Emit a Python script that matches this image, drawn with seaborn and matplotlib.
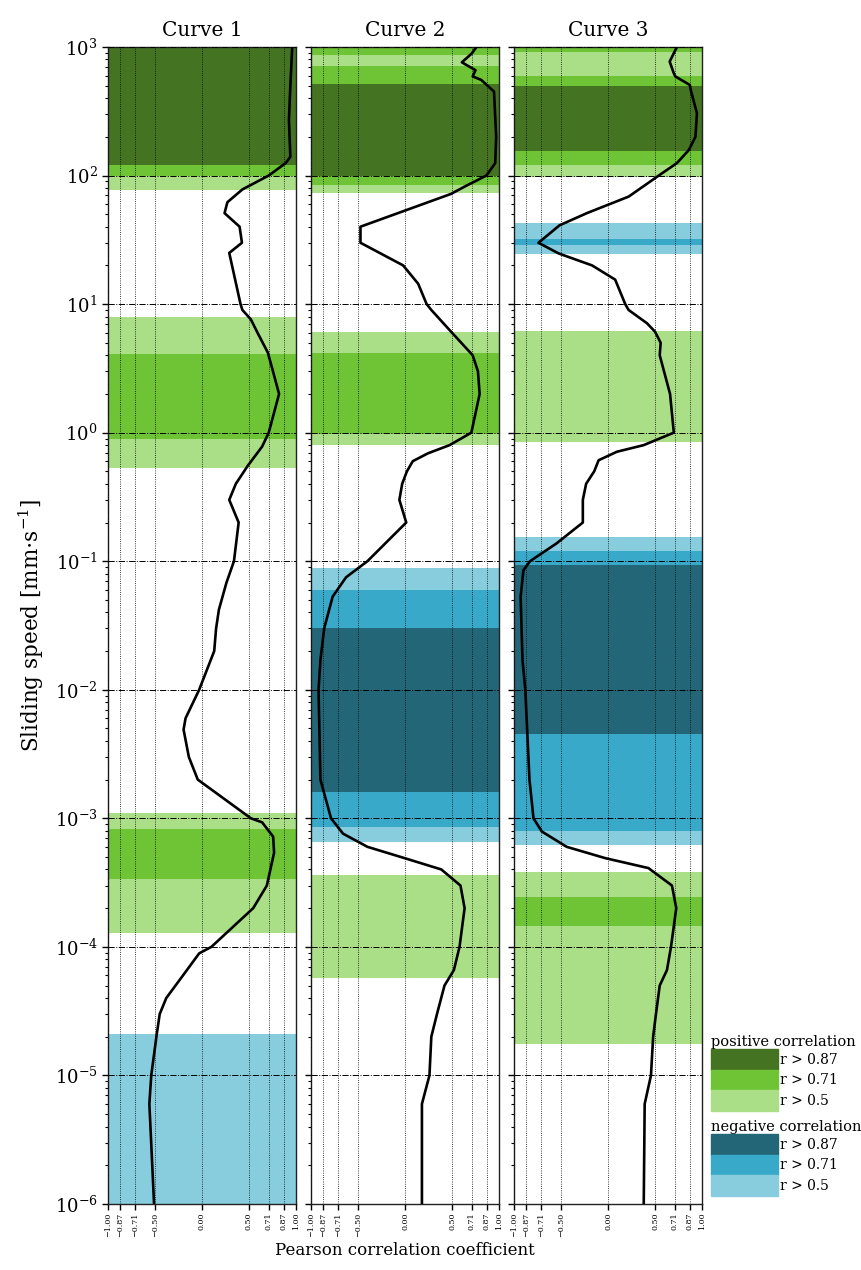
import numpy as np
import pandas as pd
import seaborn as sns
import matplotlib.pyplot as plt
from matplotlib.patches import Patch
from matplotlib.ticker import LogLocator, NullFormatter

# 곡선 1: 미끄럼 속도 [mm/s] 와 Pearson 상관계수
speed_1 = [1000, 500, 270, 140, 125, 100, 78, 62, 51, 40, 30, 25, 10, 9, 7.6, 6, 4.2, 3.1, 2, 1,
           0.78, 0.55, 0.4, 0.3, 0.2, 0.1, 0.068, 0.042, 0.03, 0.02, 0.01, 0.006, 0.0049, 0.003,
           0.002, 0.001, 0.00093, 0.00072, 0.00054, 0.0003, 0.0002, 0.0001, 8.9e-5, 5.5e-5, 4e-5,
           3e-5, 2e-5, 1e-5, 6e-6, 1e-6]
r_1 = [0.96, 0.94, 0.925, 0.94, 0.89, 0.71, 0.43, 0.27, 0.24, 0.40, 0.425, 0.29, 0.41, 0.43, 0.52,
       0.59, 0.70, 0.75, 0.82, 0.71, 0.64, 0.485, 0.36, 0.29, 0.39, 0.34, 0.26, 0.18, 0.15, 0.13,
       -0.03, -0.175, -0.196, -0.14, -0.045, 0.52, 0.64, 0.757, 0.767, 0.69, 0.545, 0.10, -0.03,
       -0.24, -0.38, -0.45, -0.485, -0.54, -0.56, -0.51]

# 곡선 2
speed_2 = [1000, 890, 760, 660, 590, 555, 450, 200, 125, 100, 82, 72, 40, 30, 20, 14.4, 10, 9, 6.1,
           4, 3, 2, 1, 0.8, 0.69, 0.6, 0.5, 0.4, 0.3, 0.2, 0.1, 0.075, 0.053, 0.03, 0.017, 0.01,
           0.002, 0.001, 0.00076, 0.0006, 0.00049, 0.0004, 0.0003, 0.0002, 0.0001, 6.6e-5, 5e-5,
           3e-5, 2e-5, 1e-5, 6e-6, 1e-6]
r_2 = [0.76, 0.71, 0.605, 0.75, 0.72, 0.81, 0.947, 0.97, 0.96, 0.866, 0.634, 0.49, -0.474, -0.474,
       -0.02, 0.14, 0.23, 0.28, 0.49, 0.72, 0.776, 0.794, 0.706, 0.475, 0.243, 0.083, 0.02, -0.03,
       -0.06, 0.013, -0.40, -0.627, -0.77, -0.86, -0.90, -0.92, -0.90, -0.787, -0.66, -0.40,
       -0.005, 0.386, 0.59, 0.634, 0.58, 0.52, 0.42, 0.34, 0.28, 0.26, 0.18, 0.18]

# 곡선 3
speed_3 = [1000, 770, 624, 590, 507, 464, 305, 200, 158, 125, 100, 68.6, 51, 41, 30, 24.8, 20, 15.5,
           10, 9, 7.1, 6.1, 5, 4, 2, 1, 0.8, 0.71, 0.61, 0.5, 0.4, 0.3, 0.2, 0.138, 0.1, 0.085,
           0.053, 0.017, 0.01, 0.002, 0.001, 0.00079, 0.0006, 0.00049, 0.00041, 0.0003, 0.0002,
           0.0001, 6.6e-5, 5e-5, 3e-5, 2e-5, 1e-5, 6e-6, 1e-6]
r_3 = [0.733, 0.656, 0.70, 0.716, 0.87, 0.88, 0.946, 0.93, 0.86, 0.733, 0.54, 0.22, -0.225, -0.516,
       -0.74, -0.527, -0.17, 0.076, 0.183, 0.219, 0.414, 0.50, 0.56, 0.55, 0.66, 0.70, 0.38, 0.094,
       -0.10, -0.147, -0.233, -0.268, -0.268, -0.545, -0.83, -0.90, -0.93, -0.91, -0.88, -0.836,
       -0.793, -0.705, -0.44, -0.03, 0.43, 0.68, 0.726, 0.67, 0.627, 0.55, 0.51, 0.48, 0.457, 0.39,
       0.38]

# 상관 구간 (하한 속도, 상한 속도, 등급): +3/-3 -> |r|>0.87, 2 -> >0.71, 1 -> >0.5
bands_1 = [(120, 1000, 3), (100, 120, 2), (77, 100, 1), (4.1, 7.9, 1), (0.89, 4.1, 2),
           (0.53, 0.89, 1), (8.3e-4, 1.1e-3, 1), (3.4e-4, 8.3e-4, 2), (1.29e-4, 3.4e-4, 1),
           (1e-6, 2.1e-5, -1)]
bands_2 = [(870, 1000, 2), (716, 870, 1), (515, 716, 2), (100, 515, 3), (84.5, 100, 2),
           (73.6, 84.5, 1), (4.2, 6.1, 1), (0.97, 4.2, 2), (0.80, 0.97, 1), (0.06, 0.089, -1),
           (0.030, 0.06, -2), (0.0016, 0.030, -3), (8.5e-4, 0.0016, -2), (6.5e-4, 8.5e-4, -1),
           (5.7e-5, 3.6e-4, 1)]
bands_3 = [(919, 1000, 2), (598, 919, 1), (497, 598, 2), (156, 497, 3), (120, 156, 2),
           (98, 120, 1), (32.2, 42.6, -1), (28.8, 32.2, -2), (24.4, 28.8, -1), (0.84, 6.2, 1),
           (0.119, 0.155, -1), (0.093, 0.119, -2), (0.00455, 0.093, -3), (7.9e-4, 0.00455, -2),
           (6.2e-4, 7.9e-4, -1), (2.44e-4, 3.8e-4, 1), (1.45e-4, 2.44e-4, 2), (1.74e-5, 1.45e-4, 1)]

titles = ['Curve 1', 'Curve 2', 'Curve 3']
r_ticks = [-1.0, -0.87, -0.71, -0.5, 0.0, 0.5, 0.71, 0.87, 1.0]
level_labels = ['r > 0.87', 'r > 0.71', 'r > 0.5']

colors = {3: '#447422', 2: '#6fc436', 1: '#aadf87',
          -3: '#226678', -2: '#38a9c8', -1: '#88cddd'}

sns.set_style('ticks')
plt.rcParams['font.family'] = ['DejaVu Serif']
plt.rcParams['mathtext.fontset'] = 'dejavuserif'
for key in ['text.color', 'axes.labelcolor', 'xtick.color', 'ytick.color', 'axes.edgecolor']:
    plt.rcParams[key] = 'black'

fig, axes = plt.subplots(1, 3, figsize=(8.62, 12.70), dpi=100, sharey=True)
fig.subplots_adjust(left=0.1253, right=0.8144, bottom=0.052, top=0.963, wspace=0.08)

curves = [(speed_1, r_1, bands_1), (speed_2, r_2, bands_2), (speed_3, r_3, bands_3)]
for i, (ax, (s, r, bands)) in enumerate(zip(axes, curves)):
    ax.set_yscale('log')
    for lo, hi, lev in bands:
        ax.axhspan(lo, hi, color=colors[lev], lw=0, zorder=1)

    df = pd.DataFrame({'speed': s, 'r': r})
    sns.lineplot(data=df, x='r', y='speed', orient='y', color='k', lw=1.9, ax=ax, zorder=4)

    ax.set_xlim(-1, 1)
    ax.set_ylim(1e-6, 1e3)
    ax.set_xticks(r_ticks)
    ax.set_xticklabels([f'{t:.2f}'.replace('-', '\u2212') for t in r_ticks],
                       rotation=90, fontsize=5.8)
    ax.set_yticks([10.0 ** k for k in range(-6, 4)])
    ax.yaxis.set_minor_locator(LogLocator(base=10, subs=np.arange(2, 10), numticks=100))
    ax.yaxis.set_minor_formatter(NullFormatter())
    ax.tick_params(axis='y', which='major', labelsize=13, length=4, width=1)
    ax.tick_params(axis='y', which='minor', length=2.2, width=0.8)
    ax.tick_params(axis='x', length=4, width=1, pad=2)

    # 격자선 (세로 점선, 가로 일점쇄선)
    for t in r_ticks:
        ax.axvline(t, color='k', ls=':', lw=0.6, zorder=3)
    for k in range(-6, 4):
        ax.axhline(10.0 ** k, color='k', ls='-.', lw=0.7, zorder=3)

    for sp in ax.spines.values():
        sp.set_color('#222222')
        sp.set_linewidth(1)

    ax.set_title(titles[i], fontsize=14.5, pad=8)
    ax.set_xlabel('')
    ax.set_ylabel('')

axes[0].set_ylabel('Sliding speed [mm$\\cdot$s$^{-1}$]', fontsize=15.5, labelpad=6)
axes[1].set_xlabel('Pearson correlation coefficient', fontsize=12, labelpad=4)

pos_handles = [Patch(color=colors[lev], label=lab) for lev, lab in zip([3, 2, 1], level_labels)]
neg_handles = [Patch(color=colors[lev], label=lab) for lev, lab in zip([-3, -2, -1], level_labels)]
leg_kw = dict(loc='upper left', frameon=False, fontsize=10, title_fontsize=10.5,
              handlelength=4.8, handleheight=1.9, labelspacing=0, handletextpad=0.2,
              borderpad=0, borderaxespad=0, alignment='left')
fig.legend(handles=pos_handles, title='positive correlation',
           bbox_to_anchor=(711 / 862, 1 - 1035 / 1270), **leg_kw)
fig.legend(handles=neg_handles, title='negative correlation',
           bbox_to_anchor=(711 / 862, 1 - 1120 / 1270), **leg_kw)

fig.savefig('out.png', dpi=100)
